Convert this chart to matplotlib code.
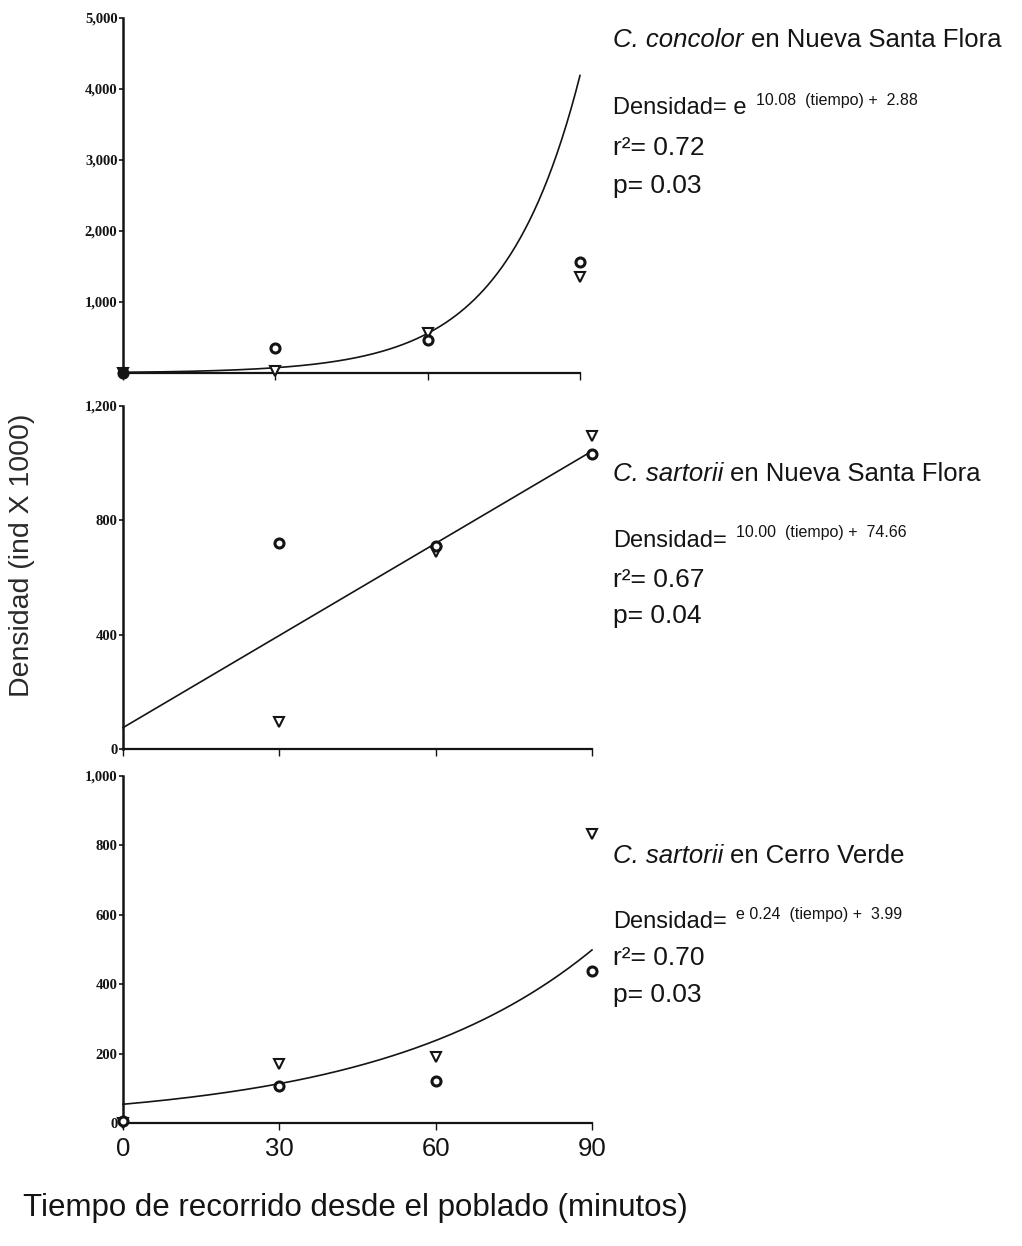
import numpy as np
import matplotlib.pyplot as plt

# data
tiempo = [0, 30, 60, 90]

# C. concolor, Nueva Santa Flora
concolor_circ = [0, 350, 465, 1560]
concolor_tri = [0, 25, 560, 1350]
concolor_fit = (9.9, 0.0672)          # exponential a*exp(b*t) as drawn

# C. sartorii, Nueva Santa Flora
sart_nsf_circ = [None, 719, 709, 1032]
sart_nsf_tri = [None, 95, 690, 1095]
sart_nsf_fit = (74.66, 10.75)         # linear intercept, slope as drawn

# C. sartorii, Cerro Verde
sart_cv_circ = [5, 106, 120, 437]
sart_cv_tri = [0, 169, 189, 834]
sart_cv_fit = (54, 0.0247)

ylims = [(0, 5000), (0, 1200), (0, 1000)]
yticks = [[1000, 2000, 3000, 4000, 5000], [0, 400, 800, 1200], [0, 200, 400, 600, 800, 1000]]
ylabels_tk = [["1,000", "2,000", "3,000", "4,000", "5,000"],
              ["0", "400", "800", "1,200"],
              ["0", "200", "400", "600", "800", "1,000"]]

especies = ["C. concolor", "C. sartorii", "C. sartorii"]
sitios = ["en Nueva Santa Flora", "en Nueva Santa Flora", "en Cerro Verde"]
ecuacion = ["Densidad= e", "Densidad=", "Densidad="]
exponente = ["10.08  (tiempo) +  2.88", "10.00  (tiempo) +  74.66", "e 0.24  (tiempo) +  3.99"]
r2 = ["0.72", "0.67", "0.70"]
pval = ["0.03", "0.04", "0.03"]

ink = "#141414"
W, H = 1022, 1246
fig = plt.figure(figsize=(W / 100, H / 100), dpi=100)


def box(x0, x1, ybot, ytop):
    return [x0 / W, 1 - ybot / H, (x1 - x0) / W, (ybot - ytop) / H]


ax1 = fig.add_axes(box(123, 580, 373, 18))
ax2 = fig.add_axes(box(123, 592, 749, 406))
ax3 = fig.add_axes(box(123, 592, 1123, 776))
axes = [ax1, ax2, ax3]

t = np.linspace(0, 90, 200)
curves = [concolor_fit[0] * np.exp(concolor_fit[1] * t),
          sart_nsf_fit[0] + sart_nsf_fit[1] * t,
          sart_cv_fit[0] * np.exp(sart_cv_fit[1] * t)]
circs = [concolor_circ, sart_nsf_circ, sart_cv_circ]
tris = [concolor_tri, sart_nsf_tri, sart_cv_tri]

for i, ax in enumerate(axes):
    ax.plot(t, curves[i], color=ink, lw=1.2, clip_on=False)
    xc = [x for x, v in zip(tiempo, circs[i]) if v is not None]
    yc = [v for v in circs[i] if v is not None]
    xt = [x for x, v in zip(tiempo, tris[i]) if v is not None]
    ytr = [v for v in tris[i] if v is not None]
    ax.plot(xt, ytr, linestyle="none", marker="v", ms=6.5, mfc="white",
            mec=ink, mew=1.5, clip_on=False, zorder=3)
    ax.plot(xc, yc, linestyle="none", marker="o", ms=6.5, mfc="white",
            mec=ink, mew=2.2, clip_on=False, zorder=4)
    ax.set_xlim(0, 90)
    ax.set_ylim(*ylims[i])
    for s in ["top", "right"]:
        ax.spines[s].set_visible(False)
    ax.spines["left"].set_linewidth(1.8)
    ax.spines["bottom"].set_linewidth(1.6)
    ax.spines["left"].set_color(ink)
    ax.spines["bottom"].set_color(ink)
    ax.set_yticks(yticks[i])
    ax.set_yticklabels(ylabels_tk[i], fontfamily="Liberation Serif",
                       fontweight="bold", fontsize=10.5, color=ink)
    ax.tick_params(axis="y", length=3, width=1.2, pad=1, color=ink)
    ax.set_xticks(tiempo)
    ax.tick_params(axis="x", length=5, width=1.0, color=ink, direction="out")
    ax.patch.set_alpha(0)
    if i < 2:
        ax.set_xticklabels([])

# the filled-looking circle at the origin of the top panel
ax1.plot([0], [0], marker="o", ms=6, color=ink, linestyle="none", clip_on=False, zorder=5)

ax3.set_xticklabels([str(v) for v in tiempo], fontsize=18.5,
                    fontfamily="Liberation Sans", color=ink)
ax3.tick_params(axis="x", pad=5)

# right-hand annotations
sans = "Liberation Sans"
renderer = fig.canvas.get_renderer()


def ftext(x, y, s, **kw):
    kw.setdefault("fontsize", 18)
    kw.setdefault("fontfamily", sans)
    kw.setdefault("color", ink)
    return fig.text(x / W, 1 - y / H, s, va="center", ha="left", **kw)


def right_edge(txt):
    return txt.get_window_extent(renderer).x1


title_y = [40, 474, 856]
eq_y = [108, 541, 922]
r2_y = [148, 580, 958]
p_y = [186, 616, 995]
x0 = 613

for i in range(3):
    sp = ftext(x0, title_y[i], especies[i], style="italic", fontsize=18.5)
    ftext(right_edge(sp) + 7, title_y[i], sitios[i], fontsize=18.5)
    eq = ftext(x0, eq_y[i], ecuacion[i], fontsize=17)
    ftext(right_edge(eq) + 9, eq_y[i] - 8, exponente[i], fontsize=11.5)
    ftext(x0, r2_y[i], "r²= " + r2[i], fontsize=19)
    ftext(x0, p_y[i], "p= " + pval[i], fontsize=19)

fig.text(22 / W, 1 - 555 / H, "Densidad (ind X 1000)", rotation=90,
         ha="center", va="center", fontsize=20.5, fontfamily=sans, color="#2a2a2a")
fig.text(355 / W, 1 - 1208 / H, "Tiempo de recorrido desde el poblado (minutos)",
         ha="center", va="center", fontsize=22.5, fontfamily=sans, color=ink)

fig.savefig("out.png", dpi=100, facecolor="white")
